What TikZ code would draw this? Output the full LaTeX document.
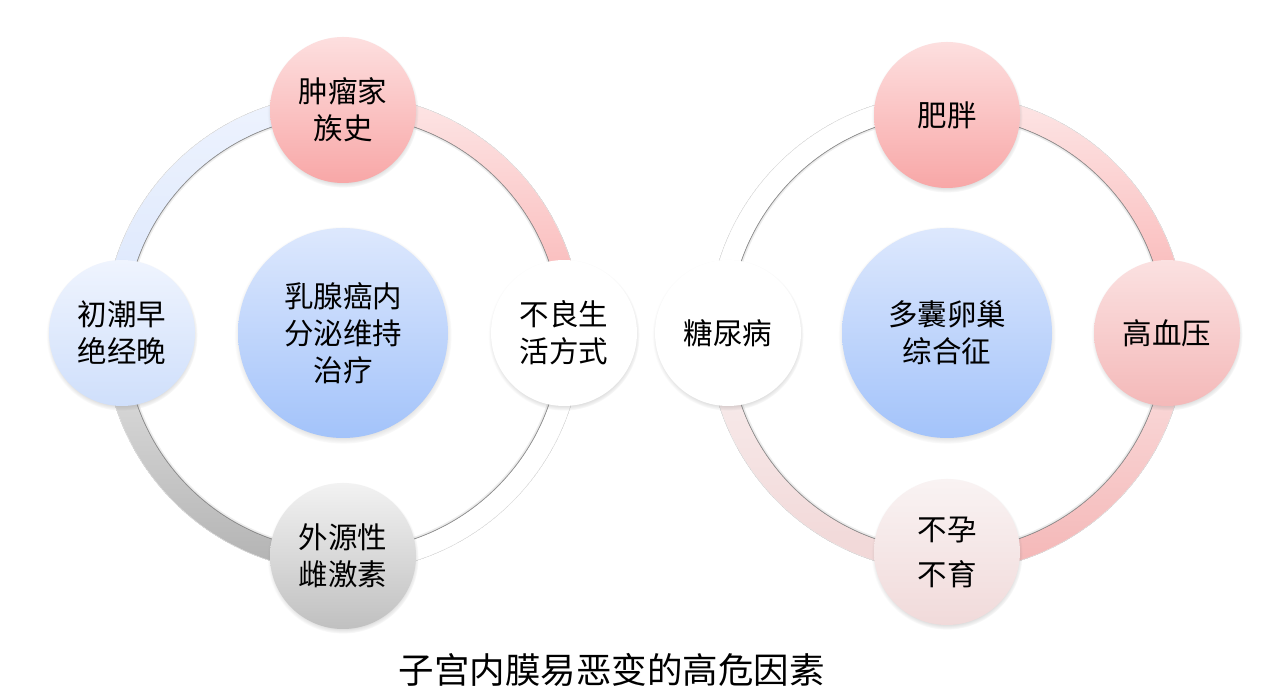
\documentclass[tikz,border=0pt]{standalone}
\usepackage{fontspec}
\newfontfamily\cjk{Noto Sans CJK SC}
\usetikzlibrary{shadows,calc}
\definecolor{pinkT}{HTML}{FDDFDF}
\definecolor{pinkB}{HTML}{F8A7A7}
\definecolor{blueT}{HTML}{DDE8FD}
\definecolor{blueB}{HTML}{A3C3FA}
\definecolor{lblueT}{HTML}{EFF4FE}
\definecolor{lblueB}{HTML}{CFDFFB}
\definecolor{grayT}{HTML}{F2F2F2}
\definecolor{grayB}{HTML}{C0C0C0}
\definecolor{rosT}{HTML}{FBE1E1}
\definecolor{rosB}{HTML}{F4B9B9}
\definecolor{paleT}{HTML}{F9F3F3}
\definecolor{paleB}{HTML}{F1DADA}
\definecolor{bpinkT}{HTML}{FDE6E6}
\definecolor{bpinkB}{HTML}{F9B0B0}
\definecolor{bgrayT}{HTML}{E4E4E4}
\definecolor{bgrayB}{HTML}{B2B2B2}
\definecolor{bblueT}{HTML}{EEF3FE}
\definecolor{bblueB}{HTML}{DAE6FC}
\definecolor{brosT}{HTML}{FBE2E2}
\definecolor{brosB}{HTML}{F4B6B6}
\definecolor{bpaleT}{HTML}{F9F0F0}
\definecolor{bpaleB}{HTML}{F1D6D6}
\newcommand\ringband[5]{%
  \fill[top color=#4, bottom color=#5] ($(#1)+(#2:239)$) arc[start angle=#2, end angle=#3, radius=239]
    -- ($(#1)+(#3:218)$) arc[start angle=#3, end angle=#2, radius=218] -- cycle;
  \draw[bandsoft] ($(#1)+(#2:217)$) arc[start angle=#2, end angle=#3, radius=217];
  \draw[bandshadow] ($(#1)+(#2:217.8)$) arc[start angle=#2, end angle=#3, radius=217.8];
  \draw[bandedge] ($(#1)+(#2:239)$) arc[start angle=#2, end angle=#3, radius=239];
}
\begin{document}
\begin{tikzpicture}[x=1pt,y=1pt,
  bandsoft/.style={line width=2.4pt, black, opacity=0.07},
  bandshadow/.style={line width=0.8pt, black!45, opacity=0.8},
  bandedge/.style={line width=0.5pt, black!8},
  bubble/.style={circle, minimum size=146pt, inner sep=0pt, align=center,
    font=\cjk\fontsize{29.5}{37}\selectfont, text=black,
    circular drop shadow={shadow xshift=0pt, shadow yshift=-2pt, shadow scale=1.035, opacity=0.55}},
  hub/.style={bubble, minimum size=210pt, top color=blueT, bottom color=blueB},
  title/.style={font=\cjk\fontsize{35.5}{40}\selectfont, text=black}]
\useasboundingbox (0,0) rectangle (1264,699);
\fill[white] (0,0) rectangle (1264,699);
\coordinate (L) at (343,366);
\coordinate (R) at (947,366);
% left ring bands
\ringband{L}{0}{90}{bpinkT}{bpinkB}
\ringband{L}{-90}{0}{white}{white}
\ringband{L}{180}{270}{bgrayT}{bgrayB}
\ringband{L}{90}{180}{bblueT}{bblueB}
% right ring bands
\ringband{R}{0}{90}{bpinkT}{bpinkB}
\ringband{R}{-90}{0}{brosT}{brosB}
\ringband{R}{180}{270}{bpaleT}{bpaleB}
\ringband{R}{90}{180}{white}{white}
% left diagram nodes
\node[hub] (lc) at (L) {乳腺癌内\\分泌维持\\治疗};
\node[bubble, top color=pinkT, bottom color=pinkB] (lt) at (343,589) {肿瘤家\\族史};
\node[bubble, fill=white] (lr) at (564,366) {不良生\\活方式};
\node[bubble, top color=grayT, bottom color=grayB] (lb) at (343,143) {外源性\\雌激素};
\node[bubble, top color=lblueT, bottom color=lblueB] (ll) at (122,366) {初潮早\\绝经晚};
% right diagram nodes
\node[hub] (rc) at (R) {多囊卵巢\\综合征};
\node[bubble, top color=pinkT, bottom color=pinkB] (rt) at (947,584) {肥胖};
\node[bubble, top color=rosT, bottom color=rosB] (rr) at (1167,366) {高血压};
\node[bubble, top color=paleT, bottom color=paleB, font=\cjk\fontsize{29.5}{45}\selectfont] (rb) at (947,147) {不孕\\不育};
\node[bubble, fill=white] (rl) at (728,366) {糖尿病};
% title
\node[title] (ttl) at (611.5,29) {子宫内膜易恶变的高危因素};
\end{tikzpicture}
\end{document}
